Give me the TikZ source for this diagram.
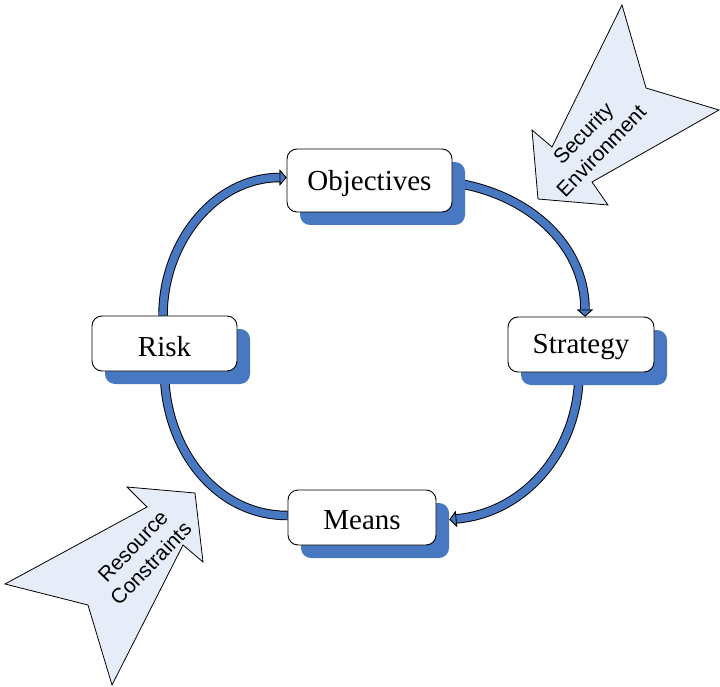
\documentclass[tikz,border=0pt]{standalone}
\usepackage{fontspec}
\setmainfont{Liberation Serif}
\setsansfont{Liberation Sans}
\usetikzlibrary{arrows.meta,shadows}
\definecolor{mblue}{RGB}{71,120,193}
\definecolor{lblue}{RGB}{231,237,248}
\pgfdeclarelayer{bg}
\pgfsetlayers{bg,main}
\newcommand\lowtxt[1]{\raisebox{-3pt}[\height][\depth]{#1}}
\begin{document}
\begin{tikzpicture}[x=1pt,y=1pt,
  box/.style={draw=black, line width=0.9pt, fill=white, rounded corners=10pt,
    inner sep=0pt, font=\fontsize{29}{32}\selectfont,
    drop shadow={shadow xshift=13pt, shadow yshift=-13pt, fill=mblue, opacity=1}},
  tipspec/.style={-{Triangle[length=7pt,width=16pt,line width=0.8pt,color=black,fill=mblue]}},
  bandout/.style={draw=black, line width=9.5pt},
  bandin/.style={draw=mblue, line width=7.6pt},
  blockarrow/.style={draw=black, line width=0.8pt, fill=lblue, line join=miter},
  blocktext/.style={rotate=46, align=center, font=\sffamily\fontsize{21}{25}\selectfont}
]
\useasboundingbox (0,0) rectangle (720,-687);

% block arrows
\draw[blockarrow] (538,-199) -- (532,-130) -- (552,-147) -- (622,-5) -- (646,-88)
  -- (719,-110) -- (592,-182) -- (608,-205) -- cycle;
\node[blocktext] (sec) at (592,-142) {Security\\Environment};

\draw[blockarrow] (195,-493) -- (127,-487) -- (147,-507) -- (5,-584) -- (88,-605)
  -- (112,-685) -- (183,-545) -- (203,-562) -- cycle;
\node[blocktext] (res) at (142,-555) {Resource\\Constraints};

% boxes
\node[box, minimum width=165pt, minimum height=63pt] (obj) at (369.5,-180.5) {\lowtxt{Objectives}};
\node[box, minimum width=146pt, minimum height=55pt] (str) at (581,-344.5) {\lowtxt{Strategy}};
\node[box, minimum width=145pt, minimum height=55pt] (risk) at (164.5,-343.5) {\lowtxt{Risk}};
\node[box, minimum width=148pt, minimum height=55pt] (means) at (362,-517.5) {\lowtxt{Means}};

% connector end points
\coordinate (r1) at ([xshift=-1.5pt]risk.north);
\coordinate (o1) at ([yshift=3pt]obj.west);
\coordinate (o2) at ([yshift=-2pt]obj.east);
\coordinate (s1) at ([xshift=4pt]str.north);
\coordinate (s2) at ([xshift=-2pt]str.south);
\coordinate (m1) at ([xshift=13pt,yshift=-2pt]means.east);
\coordinate (m2) at ([yshift=2pt]means.west);
\coordinate (r2) at (risk.south);

\begin{pgfonlayer}{bg}
  \foreach \a/\b/\o/\i in {r1/o1/90/180, o2/s1/-8/90, s2/m1/-90/5} {
    \draw[bandout, tipspec] (\a) to[out=\o,in=\i] (\b);
    \draw[bandin, tipspec] (\a) to[out=\o,in=\i] (\b);
  }
  \draw[bandout] (m2) to[out=180,in=-90] (r2);
  \draw[bandin] (m2) to[out=180,in=-90] (r2);
\end{pgfonlayer}
\end{tikzpicture}
\end{document}
